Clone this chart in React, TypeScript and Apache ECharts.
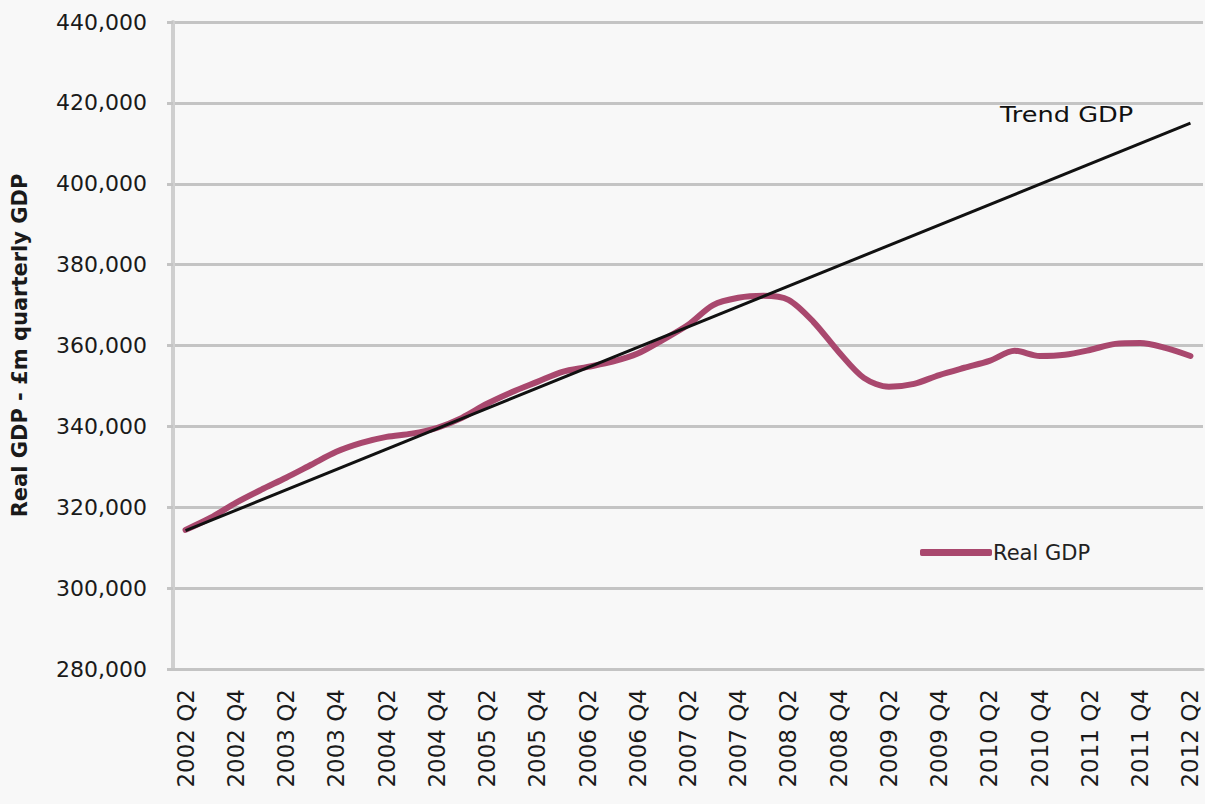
import React, { useEffect, useRef } from "react";
import * as echarts from "echarts";

const categories: string[] = [
  "2002 Q2", "2002 Q3", "2002 Q4", "2003 Q1", "2003 Q2", "2003 Q3", "2003 Q4", "2004 Q1",
  "2004 Q2", "2004 Q3", "2004 Q4", "2005 Q1", "2005 Q2", "2005 Q3", "2005 Q4", "2006 Q1",
  "2006 Q2", "2006 Q3", "2006 Q4", "2007 Q1", "2007 Q2", "2007 Q3", "2007 Q4", "2008 Q1",
  "2008 Q2", "2008 Q3", "2008 Q4", "2009 Q1", "2009 Q2", "2009 Q3", "2009 Q4", "2010 Q1",
  "2010 Q2", "2010 Q3", "2010 Q4", "2011 Q1", "2011 Q2", "2011 Q3", "2011 Q4", "2012 Q1",
  "2012 Q2",
];

const realGDP: number[] = [
  314400, 317400, 321100, 324300, 327300, 330500, 333700, 335900,
  337400, 338200, 339600, 342100, 345600, 348500, 351000, 353500,
  354700, 356000, 358000, 361400, 365100, 370000, 371800, 372300,
  371300, 365800, 358400, 352000, 349800, 350500, 352700, 354500,
  356200, 358700, 357400, 357700, 358900, 360400, 360600, 359400,
  357400,
];

const trendStart = { category: "2002 Q2", value: 314200 };
const trendEnd = { category: "2012 Q2", value: 415000 };

const yMin = 280000;
const yMax = 440000;
const yStep = 20000;

const FONT = "DejaVu Sans";

export default function App() {
  const ref = useRef<HTMLDivElement>(null);

  useEffect(() => {
    if (!ref.current) return;
    const chart = echarts.init(ref.current, undefined, { renderer: "svg" });
    chart.setOption({
      animation: false,
      backgroundColor: "#f8f8f8",
      grid: { left: 173, right: 2, top: 22, bottom: 135, containLabel: false },
      legend: {
        data: [{ name: "Real GDP", icon: "roundRect" }],
        left: 915,
        top: 537,
        itemWidth: 72,
        itemHeight: 7,
        itemGap: 0,
        textStyle: { fontFamily: FONT, fontSize: 21, color: "#222", padding: [0, 0, 0, -4] },
      },
      xAxis: {
        type: "category",
        data: categories,
        boundaryGap: true,
        axisLine: { show: true, lineStyle: { color: "#c4c4c4", width: 3 } },
        axisTick: { show: false },
        axisLabel: {
          interval: 1,
          rotate: 90,
          margin: 20,
          fontFamily: FONT,
          fontSize: 23,
          color: "#1a1a1a",
        },
        splitLine: { show: false },
      },
      yAxis: {
        type: "value",
        min: yMin,
        max: yMax,
        interval: yStep,
        name: "Real GDP - £m quarterly GDP",
        nameLocation: "middle",
        nameRotate: 90,
        nameGap: 143,
        nameTextStyle: { fontFamily: FONT, fontSize: 21, fontWeight: "bold", color: "#1a1a1a" },
        axisLine: { show: true, lineStyle: { color: "#cfcfcf", width: 4 } },
        axisTick: { show: true, length: 6, lineStyle: { color: "#c4c4c4", width: 3 } },
        axisLabel: {
          margin: 26,
          fontFamily: FONT,
          fontSize: 22,
          color: "#1a1a1a",
          formatter: (v: number) => v.toLocaleString("en-US"),
        },
        splitLine: { show: true, lineStyle: { color: "#c4c4c4", width: 3 } },
      },
      series: [
        {
          name: "Real GDP",
          type: "line",
          data: realGDP,
          smooth: 0.3,
          showSymbol: false,
          symbol: "none",
          lineStyle: { color: "#a9486e", width: 6, cap: "round" },
          itemStyle: { color: "#a9486e" },
          z: 2,
        },
        {
          name: "Trend GDP",
          type: "line",
          data: [
            [trendStart.category, trendStart.value],
            [trendEnd.category, trendEnd.value],
          ],
          showSymbol: false,
          symbol: "none",
          lineStyle: { color: "#111", width: 3 },
          itemStyle: { color: "#111" },
          z: 3,
        },
      ],
      graphic: [
        {
          type: "text",
          left: 1000,
          top: 104,
          scaleX: 1.22,
          style: {
            text: "Trend GDP",
            font: `21px "${FONT}"`,
            fill: "#111",
          },
        },
      ],
    });
    return () => chart.dispose();
  }, []);

  return (
    <div
      ref={ref}
      style={{ position: "absolute", left: 0, top: 0, width: 1205, height: 804, background: "#f8f8f8" }}
    />
  );
}
